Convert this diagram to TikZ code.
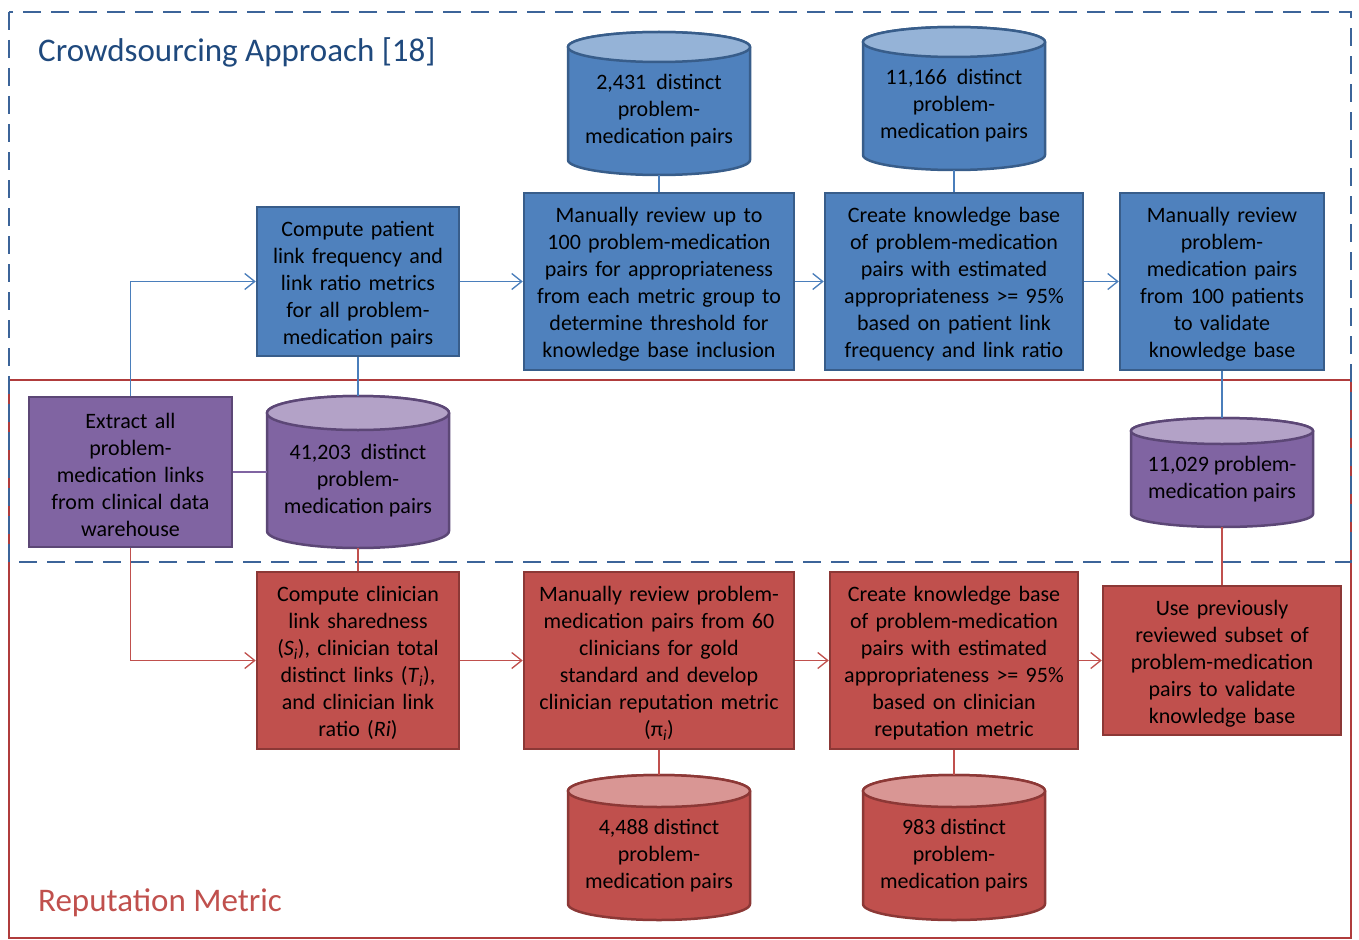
\documentclass[tikz,border=0pt]{standalone}
\usepackage{fontspec}
\setmainfont{Carlito}
\usetikzlibrary{arrows.meta}
\definecolor{bluefill}{HTML}{4F81BD}
\definecolor{blueline}{HTML}{385D8A}
\definecolor{bluetop}{HTML}{95B3D7}
\definecolor{purplefill}{HTML}{8064A2}
\definecolor{purpleline}{HTML}{5C4776}
\definecolor{purpletop}{HTML}{B3A2C7}
\definecolor{redfill}{HTML}{C0504D}
\definecolor{redline}{HTML}{8C3836}
\definecolor{redtop}{HTML}{D99694}
\definecolor{bconncol}{HTML}{4A7EBB}
\definecolor{rconncol}{HTML}{C0504D}
\definecolor{pconncol}{HTML}{8064A2}
\definecolor{titleblue}{HTML}{1F497D}
\definecolor{framblue}{HTML}{3C6499}
\definecolor{framred}{HTML}{B03C3C}
\definecolor{titlered}{HTML}{C0504D}
\tikzset{
  box/.style={rectangle, line width=2.5pt, inner sep=0pt, align=center,
    font=\fontsize{22}{27}\selectfont, text=black,
    execute at begin node={\rule{0pt}{21pt}}},
  bluebox/.style={box, fill=bluefill, draw=blueline},
  purplebox/.style={box, fill=purplefill, draw=purpleline},
  redbox/.style={box, fill=redfill, draw=redline},
  cyltext/.style={inner sep=0pt, align=center, font=\fontsize{22}{27}\selectfont, text=black,
    execute at begin node={\rule{0pt}{20pt}}},
  cylanchor/.style={rectangle, inner sep=0pt, draw=none},
  bconn/.style={draw=bconncol, line width=1.3pt, -{Straight Barb[length=10pt,width=16pt]}},
  rconn/.style={draw=rconncol, line width=1.3pt, -{Straight Barb[length=10pt,width=16pt]}},
  bline/.style={draw=bconncol, line width=1.3pt},
  rline/.style={draw=rconncol, line width=1.3pt},
  pline/.style={draw=pconncol, line width=1.3pt},
  titletext/.style={anchor=west, inner sep=0pt, font=\fontsize{33}{40}\selectfont}
}
% #1 name, #2 cx, #3 top, #4 bottom, #5 ry, #6 colour prefix, #7 text
\newcommand\mycyl[7]{%
  \pgfmathsetmacro\cylL{#2-91}\pgfmathsetmacro\cylR{#2+91}%
  \pgfmathsetmacro\cylT{-(#3)-(#5)}\pgfmathsetmacro\cylB{-(#4)+(#5)}%
  \pgfmathsetmacro\cylM{-((#3)+(#4))/2-(#5)/2}%
  \pgfmathsetmacro\cylC{-((#3)+(#4))/2}%
  \pgfmathsetmacro\cylH{(#4)-(#3)}%
  \path[fill=#6fill, draw=#6line, line width=2.5pt] (\cylL,\cylT) -- (\cylL,\cylB)
     arc[start angle=180, end angle=360, x radius=91, y radius=#5] -- (\cylR,\cylT)
     arc[start angle=0, end angle=180, x radius=91, y radius=#5] -- cycle;
  \path[fill=#6top, draw=#6line, line width=2.5pt] (#2,\cylT) ellipse[x radius=91, y radius=#5];
  \node[cylanchor, minimum width=182, minimum height=\cylH] (#1) at (#2,\cylC) {};
  \node[cyltext] (#1-t) at (#2,\cylM) {#7};
}
\begin{document}
\begin{tikzpicture}[x=1pt,y=1pt]
\useasboundingbox (0,0) rectangle (1359,-939);
% frames
\draw[framred, line width=2.5pt] (9,-380) rectangle (1351,-938);
\draw[framblue, line width=2.5pt, dash pattern=on 18pt off 10pt] (9,-12) rectangle (1351,-562);
% titles
\node[titletext, text=titleblue] (title1) at (38,-52) {Crowdsourcing Approach [18]};
\node[titletext, text=titlered] (title2) at (38,-903) {Reputation Metric};
% blue boxes
\node[bluebox, minimum width=202, minimum height=149, text width=202] (B1) at (358,-281.5)
  {Compute patient\\link frequency and\\link ratio metrics\\for all problem-\\medication pairs};
\node[bluebox, minimum width=270, minimum height=177, text width=270] (B2) at (659,-281.5)
  {Manually review up to\\100 problem-medication\\pairs for appropriateness\\from each metric group to\\determine threshold for\\knowledge base inclusion};
\node[bluebox, minimum width=258, minimum height=177, text width=258] (B3) at (954,-281.5)
  {Create knowledge base\\of problem-medication\\pairs with estimated\\appropriateness >= 95\%\\based on patient link\\frequency and link ratio};
\node[bluebox, minimum width=204, minimum height=177, text width=204] (B4) at (1222,-281.5)
  {Manually review\\problem-\\medication pairs\\from 100 patients\\to validate\\knowledge base};
% purple
\node[purplebox, minimum width=203, minimum height=150, text width=203] (P1) at (130.5,-472)
  {Extract all\\problem-\\medication links\\from clinical data\\warehouse};
% red boxes
\node[redbox, minimum width=202, minimum height=177, text width=202] (R1) at (358,-660.5)
  {Compute clinician\\link sharedness\\(\textit{S}\textsubscript{\textit{i}}), clinician total\\distinct links (\textit{T}\textsubscript{\textit{i}}),\\and clinician link\\ratio (\textit{Ri})};
\node[redbox, minimum width=270, minimum height=177, text width=270] (R2) at (659,-660.5)
  {Manually review problem-\\medication pairs from 60\\clinicians for gold\\standard and develop\\clinician reputation metric\\(π\textsubscript{\textit{i}})};
\node[redbox, minimum width=248, minimum height=177, text width=248] (R3) at (954,-660.5)
  {Create knowledge base\\of problem-medication\\pairs with estimated\\appropriateness >= 95\%\\based on clinician\\reputation metric};
\node[redbox, minimum width=238, minimum height=149, text width=238] (R4) at (1222,-660.5)
  {Use previously\\reviewed subset of\\problem-medication\\pairs to validate\\knowledge base};
% cylinders
\mycyl{C1}{659}{32}{175}{15}{blue}{2,431\ \ distinct\\problem-\\medication pairs}
\mycyl{C2}{954}{27}{170}{15}{blue}{11,166\ \ distinct\\problem-\\medication pairs}
\mycyl{P2}{358}{396}{548}{17}{purple}{41,203\ \ distinct\\problem-\\medication pairs}
\mycyl{P3}{1222}{418}{527}{13}{purple}{11,029 problem-\\medication pairs}
\mycyl{RC1}{659}{775}{920}{16}{red}{4,488 distinct\\problem-\\medication pairs}
\mycyl{RC2}{954}{775}{920}{16}{red}{983 distinct\\problem-\\medication pairs}
% connectors
\draw[bconn] (P1.north) |- (B1.west);
\draw[bconn] (B1.east) -- (B2.west);
\draw[bconn] (B2.east) -- (B3.west);
\draw[bconn] (B3.east) -- (B4.west);
\draw[bline] (C1.south) -- (B2.north);
\draw[bline] (C2.south) -- (B3.north);
\draw[bline] (B1.south) -- (P2.north);
\draw[bline] (B4.south) -- (P3.north);
\draw[pline] (P1.east) -- (P2.west);
\draw[rconn] (P1.south) |- (R1.west);
\draw[rconn] (R1.east) -- (R2.west);
\draw[rconn] (R2.east) -- (R3.west);
\draw[rconn] (R3.east) -- (R4.west);
\draw[rline] (P2.south) -- (R1.north);
\draw[rline] (P3.south) -- (R4.north);
\draw[rline] (R2.south) -- (RC1.north);
\draw[rline] (R3.south) -- (RC2.north);
\end{tikzpicture}
\end{document}
